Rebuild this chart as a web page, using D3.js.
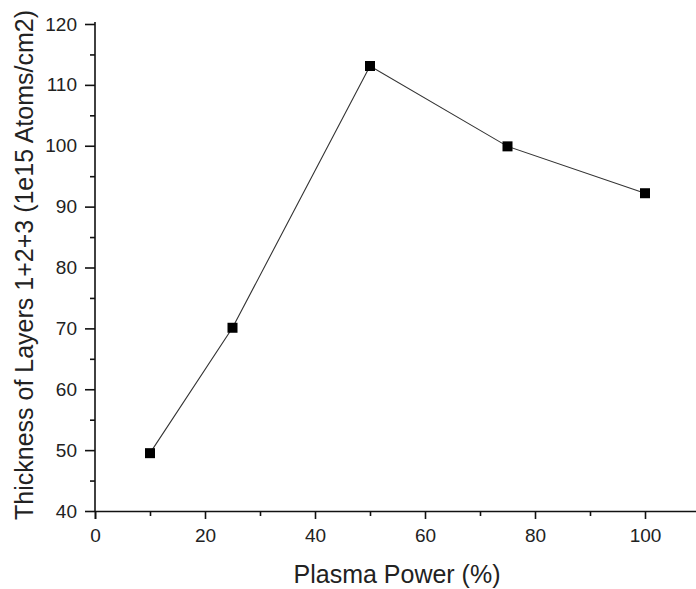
<!DOCTYPE html>
<html>
<head>
<meta charset="utf-8">
<script src="https://cdn.jsdelivr.net/npm/d3@7/dist/d3.min.js"></script>
<style>
  html, body { margin: 0; padding: 0; background: #fff; }
  svg { display: block; font-family: "Liberation Sans", Arial, sans-serif; }
</style>
</head>
<body>
<svg id="chart" width="696" height="589"></svg>
<script>
// Plasma power (%) vs. total thickness of layers 1+2+3
const plasmaPower = [10, 25, 50, 75, 100];
const thickness = [49.5, 70.1, 113.1, 99.9, 92.2];

const xMajorTicks = [0, 20, 40, 60, 80, 100];
const xMinorTicks = [10, 30, 50, 70, 90, 110];
const yMajorTicks = [40, 50, 60, 70, 80, 90, 100, 110, 120];
const yMinorTicks = [45, 55, 65, 75, 85, 95, 105, 115];

const xTitle = "Plasma Power (%)";
const yTitle = "Thickness of Layers 1+2+3 (1e15 Atoms/cm2)";

const svg = d3.select("#chart");
const plotL = 95, plotR = 700, plotT = 24, plotB = 511;

const x = d3.scaleLinear().domain([0, 110]).range([plotL, plotR]);
const y = d3.scaleLinear().domain([40, 120]).range([plotB, plotT]);

// Axes with outward ticks, major and minor
function styleAxis(g) {
  g.selectAll("path, line").attr("stroke", "#111").attr("stroke-width", 1.6);
  g.selectAll("text").attr("fill", "#222").style("font-size", "19px");
}

const xAxisMinor = svg.append("g")
  .attr("transform", `translate(0,${plotB})`)
  .call(d3.axisBottom(x).tickValues(xMinorTicks).tickSize(5).tickFormat(""));
styleAxis(xAxisMinor);
xAxisMinor.select(".domain").remove();

const xAxis = svg.append("g")
  .attr("transform", `translate(0,${plotB})`)
  .call(d3.axisBottom(x).tickValues(xMajorTicks).tickSize(8).tickPadding(10).tickFormat(d3.format("d")));
styleAxis(xAxis);

const yAxisMinor = svg.append("g")
  .attr("transform", `translate(${plotL},0)`)
  .call(d3.axisLeft(y).tickValues(yMinorTicks).tickSize(5).tickFormat(""));
styleAxis(yAxisMinor);
yAxisMinor.select(".domain").remove();

const yAxis = svg.append("g")
  .attr("transform", `translate(${plotL},0)`)
  .call(d3.axisLeft(y).tickValues(yMajorTicks).tickSize(10).tickPadding(8).tickFormat(d3.format("d")));
styleAxis(yAxis);
yAxis.select(".domain").attr("d", `M0,${plotB}V${plotT - 2}`);

// Axis titles
svg.append("text")
  .attr("x", 397).attr("y", 583)
  .attr("text-anchor", "middle")
  .attr("fill", "#222")
  .style("font-size", "25px")
  .text(xTitle);

svg.append("text")
  .attr("transform", `translate(33,265) rotate(-90)`)
  .attr("text-anchor", "middle")
  .attr("fill", "#222")
  .style("font-size", "25px")
  .text(yTitle);

// Data line and square markers
const pts = plasmaPower.map((p, i) => [p, thickness[i]]);

svg.append("path")
  .datum(pts)
  .attr("fill", "none")
  .attr("stroke", "#333")
  .attr("stroke-width", 1.1)
  .attr("d", d3.line().x(d => x(d[0])).y(d => y(d[1])));

const ms = 10;
svg.append("g").selectAll("rect")
  .data(pts)
  .join("rect")
  .attr("x", d => x(d[0]) - ms / 2)
  .attr("y", d => y(d[1]) - ms / 2)
  .attr("width", ms)
  .attr("height", ms)
  .attr("fill", "#000");
</script>
</body>
</html>
